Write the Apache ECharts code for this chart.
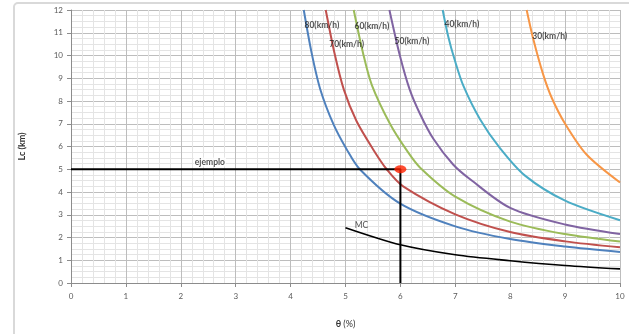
<!DOCTYPE html>
<html>
<head>
<meta charset="utf-8">
<script src="https://cdn.jsdelivr.net/npm/echarts@6/dist/echarts.min.js"></script>
<style>html,body{margin:0;padding:0;background:#fff}#c{width:629px;height:334px}</style>
</head>
<body>
<div id="c"></div>
<script>
// ---- data ----
const xTicks = [0,1,2,3,4,5,6,7,8,9,10];
const yTicks = [0,1,2,3,4,5,6,7,8,9,10,11,12];
const seriesNames = ['80(km/h)','70(km/h)','60(km/h)','50(km/h)','40(km/h)','30(km/h)'];
const v80 = [[4.24,12],[4.38,10.15],[4.54,8.52],[4.78,6.98],[5.02,5.88],[5.26,5.0],[5.99,3.5],[7.0,2.49],[8.0,1.93],[9.0,1.6],[10,1.36]];
const v70 = [[4.64,12],[4.80,10.1],[4.97,8.5],[5.20,7.12],[5.51,5.85],[5.75,5.0],[6.05,4.25],[7.0,3.02],[8,2.24],[9,1.83],[10,1.57]];
const v60 = [[5.15,12],[5.32,10.1],[5.48,8.7],[5.81,7.0],[6.11,5.85],[6.36,5.07],[7.0,3.8],[8,2.7],[9,2.15],[10,1.82]];
const v50 = [[5.80,12],[5.99,10.0],[6.17,8.5],[6.36,7.42],[6.6,6.34],[6.96,5.21],[7.27,4.56],[8,3.3],[9,2.57],[10,2.15]];
const v40 = [[6.77,12],[6.87,10.85],[6.99,9.8],[7.15,8.65],[7.45,7.2],[7.81,5.94],[8.27,4.72],[9,3.62],[10,2.76]];
const v30 = [[8.30,12],[8.42,10.72],[8.6,9.17],[8.76,8.12],[9.0,7.0],[9.39,5.65],[10,4.42]];
const mc = [[5,2.43],[6,1.68],[7,1.24],[8,0.98],[9,0.77],[10,0.62]];
const ejemplo = [[0,5],[6,5],[6,0]];
const ejemploPoint = [[6,5]];
// label anchors (data coordinates)
const curveLabelAt = [[4.57,11.31],[5.02,10.49],[5.48,11.27],[6.21,10.64],[7.12,11.37],[8.72,10.85]];
const mcLabelAt = [5.29,2.53];
const ejemploLabelAt = [2.53,5.32];

const colors = ['#4F81BD','#C0504D','#9BBB59','#8064A2','#4BACC6','#F79646'];
const curves = [v80,v70,v60,v50,v40,v30];
const font = 'Lato, "Open Sans", sans-serif';

const chart = echarts.init(document.getElementById('c'));
const series = [];
curves.forEach((d,i)=>{
  series.push({
    name: seriesNames[i], type:'line', data:d, smooth:0.3,
    showSymbol:false, symbol:'none', lineStyle:{color:colors[i], width:2}, z:3
  });
});
series.push({name:'MC', type:'line', data:mc, smooth:0.3, symbol:'none', lineStyle:{color:'#000', width:1.6}, z:3});
series.push({name:'ejemplo', type:'line', data:ejemplo, symbol:'none', lineStyle:{color:'#000', width:2}, z:4});
series.push({name:'punto', type:'scatter', data:ejemploPoint, symbol:'circle', symbolSize:[12,8], itemStyle:{color:'#FF2200'}, z:5});
// text labels
const labelData = curveLabelAt.map((p,i)=>({value:p, label:{formatter:seriesNames[i]}}));
labelData.push({value:mcLabelAt, label:{formatter:'MC', fontWeight:'normal'}});
labelData.push({value:ejemploLabelAt, label:{formatter:'ejemplo', backgroundColor:'#fff', padding:[0,1]}});
series.push({
  type:'scatter', data:labelData, symbolSize:0, z:6, silent:true,
  label:{show:true, position:'inside', color:'#262626', fontSize:8.5, fontWeight:'bold', fontFamily:font}
});

chart.setOption({
  animation:false,
  graphic:[{type:'rect', shape:{x:14,y:3,width:640,height:360,r:4}, style:{fill:null, stroke:'#d9d9d9', lineWidth:2}, z:-10}],
  grid:{left:71, right:9, top:10, bottom:47},
  xAxis:{
    type:'value', min:xTicks[0], max:xTicks[xTicks.length-1], interval:1,
    name:'{b|θ} (%)', nameLocation:'middle', nameGap:37,
    nameTextStyle:{fontFamily:font, fontSize:9, color:'#333', rich:{b:{fontWeight:'bold', fontSize:9, fontFamily:font, color:'#333'}}},
    axisLine:{lineStyle:{color:'#8c8c8c', width:1}},
    axisTick:{show:true, length:4, lineStyle:{color:'#8c8c8c'}},
    axisLabel:{fontSize:8, color:'#5a5a5a', fontFamily:font, margin:9},
    splitLine:{show:true, lineStyle:{color:'#bdbdbd', width:1}},
    minorTick:{show:false, splitNumber:5},
    minorSplitLine:{show:true, lineStyle:{color:'#e4e4e4', width:1}}
  },
  yAxis:{
    type:'value', min:yTicks[0], max:yTicks[yTicks.length-1], interval:1,
    name:'Lc (km)', nameLocation:'middle', nameGap:44, nameRotate:90,
    nameTextStyle:{fontFamily:font, fontSize:9, fontWeight:'bold', color:'#333'},
    axisLine:{show:true, lineStyle:{color:'#8c8c8c', width:1}},
    axisTick:{show:true, length:4, lineStyle:{color:'#8c8c8c'}},
    axisLabel:{fontSize:8, color:'#5a5a5a', fontFamily:font, margin:8},
    splitLine:{show:true, lineStyle:{color:'#bdbdbd', width:1}},
    minorTick:{show:false, splitNumber:4},
    minorSplitLine:{show:true, lineStyle:{color:'#e4e4e4', width:1}}
  },
  series: series
});
</script>
</body>
</html>
